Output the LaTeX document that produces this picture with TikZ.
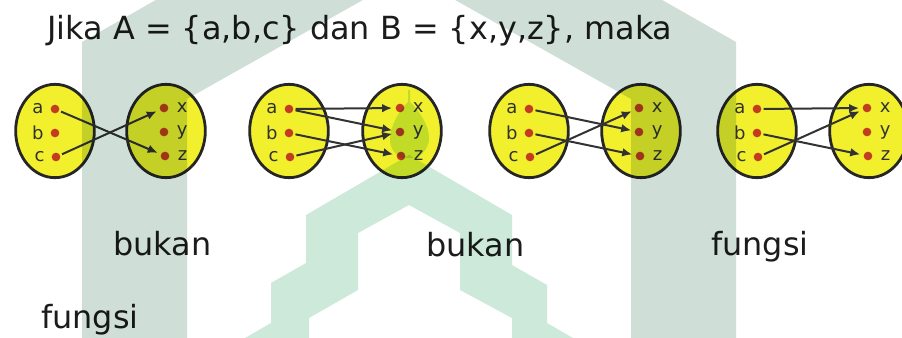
\documentclass[tikz,border=0pt]{standalone}
\usepackage{fontspec}
\setmainfont{DejaVu Sans}
\usetikzlibrary{shapes.geometric,arrows.meta}
\definecolor{setyellow}{RGB}{242,240,45}
\definecolor{dotred}{RGB}{196,60,32}
\definecolor{inkgrey}{RGB}{50,50,50}
\definecolor{wordink}{RGB}{28,28,28}
\definecolor{wmgrey}{RGB}{207,222,215}
\definecolor{wmgreen}{RGB}{204,233,217}
\tikzset{%
    setoval/.style={ellipse, draw=black!85, line width=2.1pt, fill=setyellow,
    	minimum width=59pt, minimum height=70pt, inner sep=0},
    elem/.style={circle, fill=dotred, minimum size=6.5pt, inner sep=0},
    map/.style={draw=inkgrey, line width=1.5pt, -{Latex[length=7.5pt,width=6.5pt]},
    	shorten <=1.5pt, shorten >=2.5pt},
    wordtext/.style={anchor=base west, inner sep=0, text=wordink,
    	font=\fontsize{23.9}{28}\selectfont},
    every label/.style={inner sep=0, text=inkgrey, font=\fontsize{13.5}{15}\selectfont}
}

\begin{document}
\begin{tikzpicture}[x=0.75pt, y=-0.75pt]
  \useasboundingbox (0,0) rectangle (902,338);

  \node (title) [wordtext] at (47,39.5) {Jika A = \{a,b,c\} dan B = \{x,y,z\}, maka};

  % the four pairs of sets
  \foreach \n/\ax/\bx in {1/55/166, 2/289/402, 3/529/641, 4/757/869} {
    \node (A\n) [setoval] at (\ax,131) {};
    \node (B\n) [setoval] at (\bx,131) {};
    \node (a\n) [elem, label={[label distance=5pt]left:a}] at (\ax,109) {};
    \node (b\n) [elem, label={[label distance=5pt]left:b}] at (\ax,133) {};
    \node (c\n) [elem, label={[label distance=5pt]left:c}] at (\ax+1,157) {};
    \node (x\n) [elem, label={[label distance=6pt]right:x}] at (\bx-2,108) {};
    \node (y\n) [elem, label={[label distance=6pt]right:y}] at (\bx-2,132) {};
    \node (z\n) [elem, label={[label distance=6pt]right:z}] at (\bx-1,156) {};
  }

  \draw[map] (a1) -- (z1);
  \draw[map] (c1) -- (x1);

  \draw[map] (a2) -- (x2);
  \draw[map] (a2) -- (y2);
  \draw[map] (b2) -- (z2);
  \draw[map] (c2) -- (y2);

  \draw[map] (a3) -- (y3);
  \draw[map] (b3) -- (z3);
  \draw[map] (c3) -- (x3);

  \draw[map] (a4) -- (x4);
  \draw[map] (b4) -- (z4);
  \draw[map] (c4) -- (x4);

  \node (note1) [wordtext] at (113,255) {bukan};
  \node (note2) [wordtext] at (426,256) {bukan};
  \node (note3) [wordtext] at (711,255) {fungsi};
  \node (note4) [wordtext] at (41,328) {fungsi};

  % watermark
  \begin{scope}[blend mode=multiply]
    \clip (0,0) rectangle (902,338);
    \fill[wmgrey] (82,338) -- (82,42) -- (409,-144) -- (736,42) -- (736,338)
      -- (631,338) -- (631,99) -- (409,-26) -- (187,99) -- (187,338) -- cycle;
    \fill[wmgreen] (245,338) -- (271,323) -- (271,283) -- (306,263) -- (306,215)
      -- (409,155) -- (512,215) -- (512,265) -- (547,285) -- (547,323) -- (573,338)
      -- (512,338) -- (512,318) -- (460,290) -- (460,233) -- (409,205)
      -- (358,233) -- (358,290) -- (309,318) -- (309,338) -- cycle;
    \fill[wmgreen] (408,90) -- (410,90) -- (410,102)
      .. controls (418,110) and (430,125) .. (429,140)
      .. controls (428,148) and (424,152) .. (418,158) -- (400,158)
      .. controls (394,152) and (390,148) .. (390,140)
      .. controls (390,125) and (400,110) .. (408,102) -- cycle;
  \end{scope}
\end{tikzpicture}
\end{document}
